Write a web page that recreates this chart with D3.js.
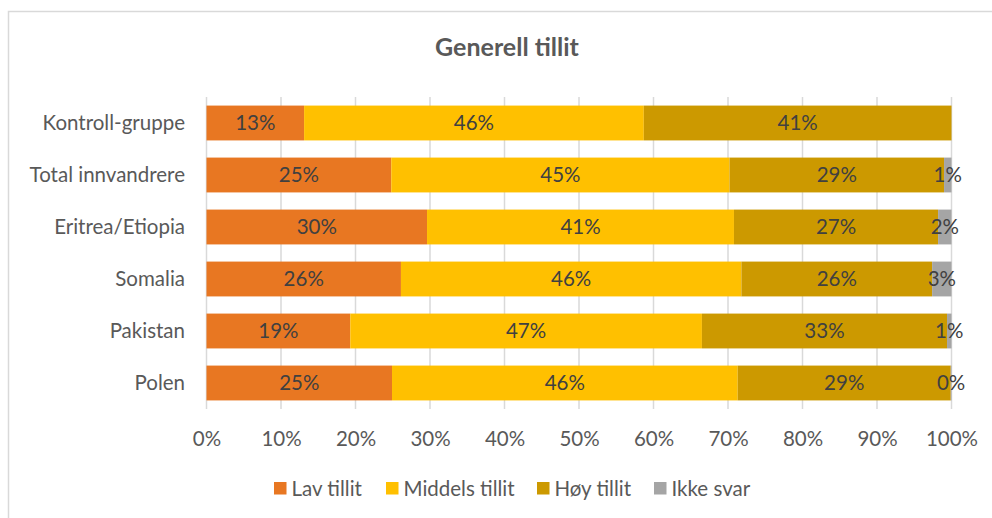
<!DOCTYPE html>
<html>
<head>
<meta charset="utf-8">
<script src="https://cdn.jsdelivr.net/npm/d3@7"></script>
<style>
	body { margin: 0; background: #fff; }
	text { font-family: Lato, "Noto Sans", sans-serif; }
</style>
</head>
<body>
<svg id="chart" width="992" height="518"></svg>
<script>
// Data (percent)
var categories = ["Kontroll-gruppe", "Total innvandrere", "Eritrea/Etiopia", "Somalia", "Pakistan", "Polen"];
var seriesNames = ["Lav tillit", "Middels tillit", "Høy tillit", "Ikke svar"];
var lavTillit = [13.1, 24.8, 29.6, 26.1, 19.3, 24.9];
var middelsTillit = [45.6, 45.4, 41.2, 45.7, 47.2, 46.4];
var hoyTillit = [41.3, 28.8, 27.4, 25.6, 32.9, 28.6];
var ikkeSvar = [0, 1.0, 1.8, 2.6, 0.6, 0.1];
var xTicks = [0, 10, 20, 30, 40, 50, 60, 70, 80, 90, 100];
var colors = ["#e87722", "#ffc000", "#cc9900", "#a5a5a5"];

var seriesValues = [lavTillit, middelsTillit, hoyTillit, ikkeSvar];
var font = "Lato, 'Noto Sans', sans-serif";
var fontSize = 20.5;

var rows = categories.map(function(c, i) {
	var row = { name: c };
	seriesNames.forEach(function(s, j) {
		row[s] = seriesValues[j][i];
	});
	return row;
});

var svg = d3.select("#chart");

// chart border
svg.append("rect")
	.attr("x", 8.5)
	.attr("y", 11.5)
	.attr("width", 1000)
	.attr("height", 520)
	.attr("fill", "none")
	.attr("stroke", "#d9d9d9")
	.attr("stroke-width", 1.5);

svg.append("text")
	.attr("x", 507)
	.attr("y", 56)
	.attr("text-anchor", "middle")
	.attr("font-size", 25)
	.attr("font-weight", "bold")
	.attr("fill", "#595959")
	.text("Generell tillit");

var x = d3.scaleLinear()
	.domain([0, 100])
	.range([206.5, 951.5]);

var y = d3.scaleBand()
	.domain(categories)
	.range([97, 409])
	.paddingInner(0.33)
	.paddingOuter(0.165);

// gridlines
svg.append("g")
	.attr("class", "grid")
	.selectAll("line")
	.data(xTicks)
	.enter()
	.append("line")
	.attr("x1", (d) => x(d))
	.attr("x2", (d) => x(d))
	.attr("y1", 97)
	.attr("y2", 409)
	.attr("stroke", "#d9d9d9")
	.attr("stroke-width", 1.5);

var stack = d3.stack().keys(seriesNames);
var layers = stack(rows);

var gLayers = svg.append("g")
	.attr("class", "layers")
	.selectAll("g")
	.data(layers)
	.enter()
	.append("g")
	.attr("fill", (d, i) => colors[i]);

gLayers.selectAll("rect")
	.data((d) => d)
	.enter()
	.append("rect")
	.attr("x", (d) => x(d[0]))
	.attr("y", (d) => y(d.data.name))
	.attr("width", (d) => x(d[1]) - x(d[0]))
	.attr("height", y.bandwidth());

// data labels (zero-width segments get none)
var fmt = (v) => Math.round(v) + "%";
svg.append("g")
	.attr("class", "labels")
	.selectAll("g")
	.data(layers)
	.enter()
	.append("g")
	.selectAll("text")
	.data((d) => d.filter((p) => p[1] - p[0] > 0))
	.enter()
	.append("text")
	.attr("x", (d) => x((d[0] + d[1]) / 2))
	.attr("y", (d) => y(d.data.name) + y.bandwidth() / 2)
	.attr("dy", "0.35em")
	.attr("text-anchor", "middle")
	.attr("font-size", fontSize)
	.attr("fill", "#404040")
	.text((d) => fmt(d[1] - d[0]));

// x axis
var xAxis = d3.axisBottom(x)
	.tickValues(xTicks)
	.tickSize(0)
	.tickPadding(0)
	.tickFormat((d) => d + "%");

var gx = svg.append("g")
	.attr("transform", "translate(0,431)")
	.call(xAxis);
gx.select(".domain").remove();
gx.selectAll("text")
	.attr("font-size", fontSize)
	.attr("fill", "#595959")
	.style("font-family", font);

// y axis
var yAxis = d3.axisLeft(y)
	.tickSize(0)
	.tickPadding(21.5);

var gy = svg.append("g")
	.attr("transform", "translate(206.5,0)")
	.call(yAxis);
gy.select(".domain").remove();
gy.selectAll("text")
	.attr("font-size", fontSize)
	.attr("fill", "#595959")
	.style("font-family", font);

// legend
var legendX = [274, 386, 537, 654];
var legend = svg.append("g")
	.attr("class", "legend")
	.selectAll("g")
	.data(seriesNames)
	.enter()
	.append("g")
	.attr("transform", (d, i) => "translate(" + legendX[i] + ",482)");

legend.append("rect")
	.attr("width", 12.5)
	.attr("height", 12.5)
	.attr("fill", (d, i) => colors[i]);

legend.append("text")
	.attr("x", 17.5)
	.attr("y", 6.5)
	.attr("dy", "0.35em")
	.attr("font-size", fontSize)
	.attr("fill", "#595959")
	.text((d) => d);
</script>
</body>
</html>
